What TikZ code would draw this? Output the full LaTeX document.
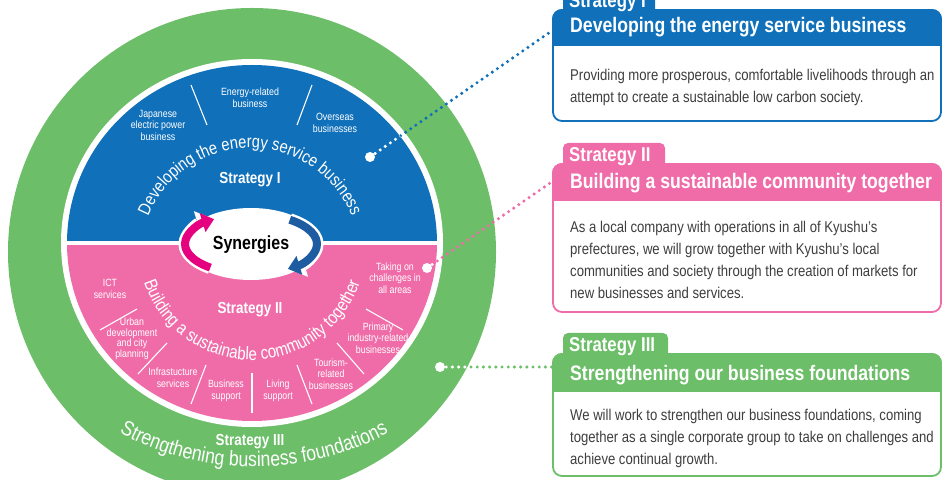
\documentclass[tikz,border=0pt]{standalone}
\usepackage{fontspec}
\setmainfont{Liberation Sans}[FakeStretch=0.84]
\usetikzlibrary{arrows.meta,decorations.text}

\definecolor{kblue}{RGB}{16,112,186}
\definecolor{kpink}{RGB}{240,108,168}
\definecolor{kgreen}{RGB}{108,190,104}
\definecolor{kmagenta}{RGB}{228,0,127}
\definecolor{karrowblue}{RGB}{30,92,162}
\definecolor{kbody}{RGB}{62,62,62}

\newcommand\fsz[2]{\fontsize{#1}{#2}\selectfont}

\tikzset{
  smalllabel/.style={text=white, align=center, font=\fsz{10.5}{11.5}, inner sep=0pt},
  divider/.style={draw=white, line width=1.1pt},
  stratlabel/.style={text=white, font=\bfseries\fsz{16}{16}, inner sep=0pt},
  dotline/.style={line width=3.4pt, line cap=round, dash pattern=on 0pt off 6.2pt},
  bigdot/.style={circle, fill=white, minimum size=10pt, inner sep=0pt},
  headtext/.style={text=white, font=\bfseries\fsz{21}{21}, anchor=base west, inner sep=0pt},
  tabtext/.style={text=white, font=\bfseries\fsz{20}{20}, anchor=base west, inner sep=0pt},
  bodytext/.style={text=kbody, font=\fsz{15.6}{22}, align=left, anchor=north west, inner sep=0pt},
}

\begin{document}
\begin{tikzpicture}[x=1pt,y=1pt]
\useasboundingbox (0,0) rectangle (944,479);

% ---------- concentric rings ----------
\fill[kgreen] (252,227) circle[radius=244];
\fill[white] (252,236) ellipse[x radius=191, y radius=184];
\begin{scope}
  \clip (0,238) rectangle (520,479);
  \fill[kblue] (252,236) ellipse[x radius=185, y radius=178];
\end{scope}
\begin{scope}
  \clip (0,0) rectangle (520,233);
  \fill[kpink] (252,236) ellipse[x radius=185, y radius=178];
\end{scope}

% ---------- Strategy I area ----------
\node[stratlabel] (s1) at (250,299) {Strategy I};
\node[smalllabel] (l11) at (158,354) {Japanese\\electric power\\business};
\node[smalllabel] (l12) at (250,381) {Energy-related\\business};
\node[smalllabel] (l13) at (335,356) {Overseas\\businesses};
\draw[divider] (191,394) -- (207,354);
\draw[divider] (312,394) -- (297,354);
\path[decorate, decoration={text along path, text align=center,
  text={|\color{white}\fsz{17.5}{17.5}|Developing the energy service business}}]
  (250,221) ++(157:110) arc[start angle=157, end angle=23, radius=110];

% ---------- Strategy II area ----------
\node[stratlabel] (s2) at (250,169) {Strategy II};
\node[smalllabel] (l21) at (110,190) {ICT\\services};
\node[smalllabel, font=\fsz{10.5}{10.5}] (l22) at (132,140) {Urban\\development\\and city\\planning};
\node[smalllabel] (l23) at (173,101) {Infrastucture\\services};
\node[smalllabel] (l24) at (226,88) {Business\\support};
\node[smalllabel] (l25) at (278,88) {Living\\support};
\node[smalllabel] (l26) at (331,105) {Tourism-\\related\\businesses};
\node[smalllabel] (l27) at (378,141) {Primary\\industry-related\\businesses};
\node[smalllabel] (l28) at (395,201) {Taking on\\challenges in\\all areas};
\draw[divider] (100,149) -- (137,170);
\draw[divider] (138,105) -- (167,136);
\draw[divider] (191,75) -- (206,114);
\draw[divider] (252,106) -- (252,66);
\draw[divider] (297,114) -- (312,75);
\draw[divider] (337,136) -- (364,105);
\draw[divider] (366,170) -- (403,149);
\path[decorate, decoration={text along path, text align=center,
  text={|\color{white}\fsz{18}{18}|Building a sustainable community together}}]
  (252,233) ++(197:114) arc[start angle=197, end angle=343, radius=114];

% ---------- Strategy III ring ----------
\node[stratlabel] (s3) at (250,37) {Strategy III};
\path[decorate, decoration={text along path, text align=center,
  text={|\color{white}\fsz{21}{21}|Strengthening business foundations}}]
  (254,294) ++(240.5:282) arc[start angle=240.5, end angle=299.5, radius=282];

% ---------- synergies ----------
\fill[white] (251,235) ellipse[x radius=68, y radius=36];
\draw[white, line width=13pt, -{Triangle[width=26pt,length=17pt]}]
  (251,235) ++(232:66 and 30) arc[start angle=232, end angle=124, x radius=66, y radius=30];
\draw[kmagenta, line width=8pt, -{Triangle[width=19pt,length=12pt]}]
  (251,235) ++(232:66 and 30) arc[start angle=232, end angle=124, x radius=66, y radius=30];
\draw[white, line width=13pt, -{Triangle[width=26pt,length=17pt]}]
  (251,235) ++(54:66 and 30) arc[start angle=54, end angle=-56, x radius=66, y radius=30];
\draw[karrowblue, line width=8pt, -{Triangle[width=19pt,length=12pt]}]
  (251,235) ++(54:66 and 30) arc[start angle=54, end angle=-56, x radius=66, y radius=30];
\node[font=\bfseries\fsz{19}{19}, text=black, inner sep=0pt] (syn) at (251,234) {Synergies};

% ---------- dotted leaders ----------
\coordinate (d1) at (370,322);
\coordinate (e1) at (553,449);
\coordinate (d2) at (427,211);
\coordinate (e2) at (553,298);
\coordinate (d3) at (440,112);
\coordinate (e3) at (553,112);
\draw[dotline, kblue] (d1) -- (e1);
\begin{scope}
  \clip (252,236) ellipse[x radius=185, y radius=178];
  \draw[dotline, white] (d1) -- (e1);
\end{scope}
\draw[dotline, kpink] (d2) -- (e2);
\begin{scope}
  \clip (252,236) ellipse[x radius=185, y radius=178];
  \draw[dotline, white] (d2) -- (e2);
\end{scope}
\draw[dotline, kgreen] (d3) -- (e3);
\begin{scope}
  \clip (252,227) circle[radius=244];
  \draw[dotline, white] (d3) -- (e3);
\end{scope}
\node[bigdot] (p1) at (d1) {};
\node[bigdot] (p2) at (d2) {};
\node[bigdot] (p3) at (d3) {};

% ---------- Strategy I panel ----------
\filldraw[draw=kblue, fill=white, line width=1.8pt, rounded corners=9pt] (553,358) rectangle (941,469);
\begin{scope}
  \clip (540,433) rectangle (950,500);
  \filldraw[kblue, line width=1.8pt, rounded corners=9pt] (553,358) rectangle (941,469);
\end{scope}
\fill[kblue, rounded corners=5pt] (563,460) rectangle (655,492);
\node[tabtext] (t1) at (569,471) {Strategy I};
\node[headtext] (h1) at (570,446) {Developing the energy service business};
\node[bodytext] (b1) at (570,410.5) {Providing more prosperous, comfortable livelihoods through an\\attempt to create a sustainable low carbon society.};

% ---------- Strategy II panel ----------
\filldraw[draw=kpink, fill=white, line width=1.8pt, rounded corners=9pt] (553,167) rectangle (941,315);
\begin{scope}
  \clip (540,278) rectangle (950,340);
  \filldraw[kpink, line width=1.8pt, rounded corners=9pt] (553,167) rectangle (941,315);
\end{scope}
\fill[kpink, rounded corners=5pt] (563,306) rectangle (665,336);
\node[tabtext] (t2) at (569,317) {Strategy II};
\node[headtext] (h2) at (570,290) {Building a sustainable community together};
\node[bodytext] (b2) at (570,258.5) {As a local company with operations in all of Kyushu’s\\prefectures, we will grow together with Kyushu’s local\\communities and society through the creation of markets for\\new businesses and services.};

% ---------- Strategy III panel ----------
\filldraw[draw=kgreen, fill=white, line width=1.8pt, rounded corners=9pt] (553,3) rectangle (941,125);
\begin{scope}
  \clip (540,87) rectangle (950,150);
  \filldraw[kgreen, line width=1.8pt, rounded corners=9pt] (553,3) rectangle (941,125);
\end{scope}
\fill[kgreen, rounded corners=5pt] (563,116) rectangle (668,146);
\node[tabtext] (t3) at (569,127) {Strategy III};
\node[headtext] (h3) at (570,98) {Strengthening our business foundations};
\node[bodytext] (b3) at (570,70.5) {We will work to strengthen our business foundations, coming\\together as a single corporate group to take on challenges and\\achieve continual growth.};
\end{tikzpicture}
\end{document}
